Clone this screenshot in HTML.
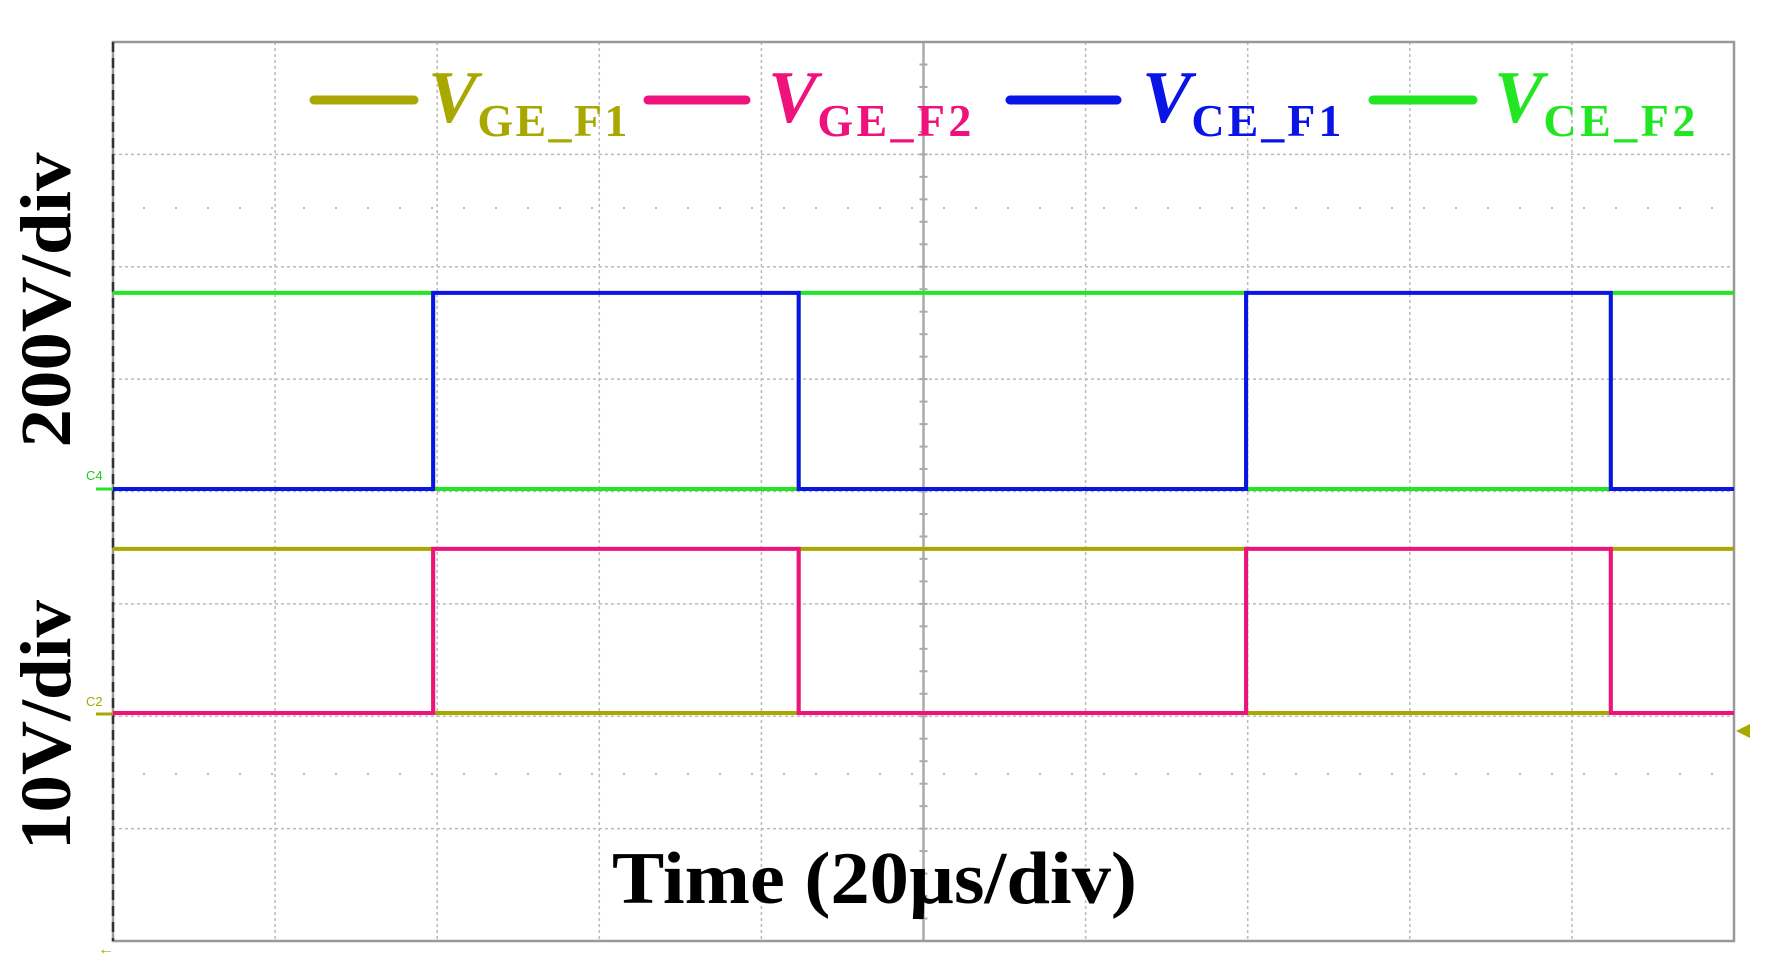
<!DOCTYPE html>
<html><head><meta charset="utf-8"><style>
html,body{margin:0;padding:0;background:#fff;}
svg{display:block;}
</style></head><body>
<svg id="chart" width="1768" height="978" viewBox="0 0 1768 978" xmlns="http://www.w3.org/2000/svg">
<rect width="1768" height="978" fill="#fff"/>
<g id="grid"></g>
<g id="traces"></g>
<g font-family="Liberation Serif, serif" font-weight="bold">
  <line x1="314" y1="100" x2="414" y2="100" stroke="#a8a800" stroke-width="9" stroke-linecap="round"/>
  <text x="428" y="122" fill="#a8a800"><tspan font-style="italic" font-size="74">V</tspan><tspan font-size="46" dy="14" textLength="150">GE_F1</tspan></text>
  <line x1="648" y1="100" x2="746" y2="100" stroke="#f0127c" stroke-width="9" stroke-linecap="round"/>
  <text x="768" y="122" fill="#f0127c"><tspan font-style="italic" font-size="74">V</tspan><tspan font-size="46" dy="14" textLength="154">GE_F2</tspan></text>
  <line x1="1010" y1="100" x2="1117" y2="100" stroke="#0a14e6" stroke-width="9" stroke-linecap="round"/>
  <text x="1142" y="122" fill="#0a14e6"><tspan font-style="italic" font-size="74">V</tspan><tspan font-size="46" dy="14" textLength="150">CE_F1</tspan></text>
  <line x1="1373" y1="100" x2="1473" y2="100" stroke="#22e622" stroke-width="9" stroke-linecap="round"/>
  <text x="1494" y="122" fill="#22e622"><tspan font-style="italic" font-size="74">V</tspan><tspan font-size="46" dy="14" textLength="152">CE_F2</tspan></text>
</g>
<g font-family="Liberation Serif, serif" font-weight="bold" fill="#000">
  <text transform="translate(70,300) rotate(-90)" text-anchor="middle" font-size="72" textLength="295" lengthAdjust="spacingAndGlyphs">200V/div</text>
  <text transform="translate(70,725) rotate(-90)" text-anchor="middle" font-size="72" textLength="250" lengthAdjust="spacingAndGlyphs">10V/div</text>
  <text x="612" y="903" font-size="74" textLength="525" lengthAdjust="spacingAndGlyphs">Time (20µs/div)</text>
</g>
<text x="86" y="480" font-family="Liberation Sans, sans-serif" font-size="13" fill="#22cc22">C4</text>
<text x="86" y="706" font-family="Liberation Sans, sans-serif" font-size="13" fill="#a8a800">C2</text>
<line x1="96" y1="489" x2="113" y2="489" stroke="#22e622" stroke-width="3"/>
<line x1="96" y1="714" x2="113" y2="714" stroke="#a8a800" stroke-width="3"/>
<polygon points="1736,731 1750,724 1750,738" fill="#a8a800"/>
<text x="98" y="954" font-size="16" fill="#a8a800" font-family="Liberation Sans, sans-serif">←</text>
</svg>
<script>
// data
const switchTimes = [0, 39.5, 84.6, 139.8, 184.8, 200]; // µs
const vceF1 = [0, 349, 0, 349, 0];
const vceF2 = [349, 0, 349, 0, 349];
const vgeF1 = [14.6, 0, 14.6, 0, 14.6];
const vgeF2 = [0, 14.6, 0, 14.6, 0];
const xTicks = [0,20,40,60,80,100,120,140,160,180,200];

const NS = 'http://www.w3.org/2000/svg';
const X0 = 113, X1 = 1734, Y0 = 42, Y1 = 941;
const xs = t => X0 + (X1 - X0) * t / 200;
const divH = (Y1 - Y0) / 8;
const yCE = v => 489 - v / 200 * divH;
const yGE = v => 713 - v / 10 * divH;

const grid = document.getElementById('grid');
function mk(tag, attrs, parent) {
  const e = document.createElementNS(NS, tag);
  for (const k in attrs) e.setAttribute(k, attrs[k]);
  parent.appendChild(e);
  return e;
}
xTicks.forEach((t, i) => {
  if (i === 0 || i === xTicks.length - 1) return;
  const l = mk('line', {x1: xs(t), x2: xs(t), y1: Y0, y2: Y1, stroke: i === 5 ? '#aaa' : '#bbb', 'stroke-width': i === 5 ? 2.5 : 1.5, 'stroke-dasharray': i === 5 ? 'none' : '3 3'}, grid);
  
  
});
for (let i = 1; i < 8; i++) {
  const y = Y0 + i * divH;
  const l = mk('line', {x1: X0, x2: X1, y1: y, y2: y, stroke: '#bbb', 'stroke-width': 1.5, 'stroke-dasharray': '3 3'}, grid);
  
  
}
[208, 774].forEach(y => {
  const l = mk('line', {x1: X0 + 30, x2: X1, y1: y, y2: y, stroke: '#bbb', 'stroke-width': 2, 'stroke-dasharray': '2 30'}, grid);
  
  
});
// center axis ticks
for (let y = Y0; y < Y1; y += divH / 5) {
  mk('line', {x1: xs(100) - 4, x2: xs(100) + 4, y1: y, y2: y, stroke: '#aaa', 'stroke-width': 2}, grid);
}
const frame = mk('rect', {x: X0, y: Y0, width: X1 - X0, height: Y1 - Y0, fill: 'none', stroke: '#999', 'stroke-width': 2.5}, grid);


const lb = mk('line', {x1: X0, x2: X0, y1: Y0, y2: Y1, stroke: '#333', 'stroke-width': 2.5, 'stroke-dasharray': '10 6'}, grid);



const traces = document.getElementById('traces');
function stepPath(vals, yf) {
  let d = 'M' + xs(switchTimes[0]) + ',' + yf(vals[0]);
  for (let i = 0; i < vals.length; i++) {
    if (i > 0) d += ' L' + xs(switchTimes[i]) + ',' + yf(vals[i]);
    d += ' L' + xs(switchTimes[i + 1]) + ',' + yf(vals[i]);
  }
  return d;
}
function draw(vals, yf, color, name) {
  const p = mk('path', {d: stepPath(vals, yf), fill: 'none', stroke: color, 'stroke-width': 4, 'stroke-linejoin': 'miter'}, traces);
  
  
}
draw(vgeF1, yGE, '#a8a800', 'trace-vge-f1');
draw(vgeF2, yGE, '#f0127c', 'trace-vge-f2');
draw(vceF2, yCE, '#22e622', 'trace-vce-f2');
draw(vceF1, yCE, '#0a14e6', 'trace-vce-f1');
</script>
</body></html>
